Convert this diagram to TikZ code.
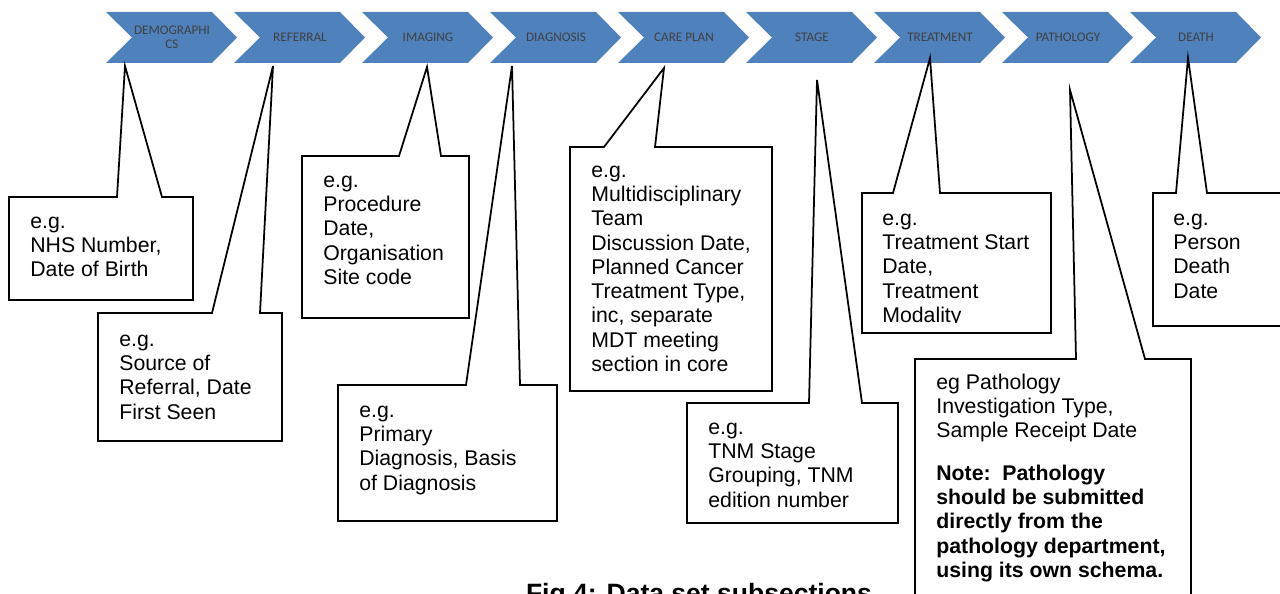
\documentclass[tikz,border=0pt]{standalone}
\usepackage{fontspec}
\setmainfont{Liberation Sans}
\newfontfamily\chevfont{Carlito}
\definecolor{chevblue}{HTML}{4F81BD}
\definecolor{chevtext}{HTML}{404040}
\tikzset{chevron/.style={fill=chevblue, draw=none},
  chevlabel/.style={font=\chevfont\fontsize{7.5}{8.1}\selectfont, text=chevtext, align=center, inner sep=0pt},
  callout/.style={draw=black, line width=1pt, fill=white, line join=miter},
  boxtext/.style={font=\fontsize{12.1}{13.8}\selectfont, align=left, anchor=north west, inner sep=0pt}}

\begin{document}
\begin{tikzpicture}[x=0.02cm, y=-0.02cm]
\useasboundingbox (0,0) rectangle (1280,594);
\clip (0,0) rectangle (1280,594);
% row of chevrons
\foreach \lbl [count=\i] in {{DEMOGRAPHI\\CS},REFERRAL,IMAGING,DIAGNOSIS,{CARE PLAN},STAGE,TREATMENT,PATHOLOGY,DEATH} {
  \pgfmathsetmacro{\L}{106+128*(\i-1)}
  \fill[chevron] (\L,12) -- ++(106,0) -- ++(25,25.5) -- ++(-25,25.5) -- ++(-106,0) -- ++(26,-25.5) -- cycle;
  \node[chevlabel] (c\i) at (\L+66,37.5) {\lbl};
}
% callouts
\draw[callout] (9,197) -- (117,197) -- (125,66) -- (162,197) -- (193,197) -- (193,300) -- (9,300) -- cycle;
\draw[callout] (98,313) -- (212,313) -- (273,66) -- (260,313) -- (282,313) -- (282,441) -- (98,441) -- cycle;
\draw[callout] (302,156) -- (399,156) -- (427,67) -- (441,156) -- (469,156) -- (469,318) -- (302,318) -- cycle;
\draw[callout] (338,385) -- (466,385) -- (512,66) -- (520,385) -- (557,385) -- (557,521) -- (338,521) -- cycle;
\draw[callout] (570,147) -- (604,147) -- (664,68) -- (655,147) -- (772,147) -- (772,391) -- (570,391) -- cycle;
\draw[callout] (687,403) -- (809,403) -- (817,80) -- (862,403) -- (898,403) -- (898,523) -- (687,523) -- cycle;
\draw[callout] (862,193) -- (893,193) -- (930,58) -- (940,193) -- (1051,193) -- (1051,333) -- (862,333) -- cycle;
\draw[callout] (915,359) -- (1076,359) -- (1070,90) -- (1145,359) -- (1191,359) -- (1191,620) -- (915,620) -- cycle;
\draw[callout] (1153,193) -- (1176,193) -- (1188,58) -- (1207,193) -- (1300,193) -- (1300,326) -- (1153,326) -- cycle;
% texts (top of first strut = baseline - 17)
\node[boxtext] (demog) at (30,211) {\strut e.g.\\NHS Number,\\Date of Birth};
\node[boxtext] (referral) at (119,329) {\strut e.g.\\Source of\\Referral, Date\\First Seen};
\node[boxtext] (imaging) at (323,170) {\strut e.g.\\Procedure\\Date,\\Organisation\\Site code};
\node[boxtext] (diagnosis) at (359,400) {\strut e.g.\\Primary\\Diagnosis, Basis\\of Diagnosis};
\node[boxtext] (careplan) at (591,160) {\strut e.g.\\Multidisciplinary\\Team\\Discussion Date,\\Planned Cancer\\Treatment Type,\\inc, separate\\MDT meeting\\section in core};
\node[boxtext] (stage) at (708,417) {\strut e.g.\\TNM Stage\\Grouping, TNM\\edition number};
\begin{scope}
\clip (862,193) rectangle (1051,322);
\node[boxtext] (treatment) at (882,208) {\strut e.g.\\Treatment Start\\Date,\\Treatment\\Modality};
\end{scope}
\node[boxtext] (pathology) at (936,372) {\strut eg Pathology\\Investigation Type,\\Sample Receipt Date};
\node[boxtext, font=\bfseries\fontsize{12.1}{13.8}\selectfont] (pathnote) at (936,463) {\strut Note:\ \ Pathology\\should be submitted\\directly from the\\pathology department,\\using its own schema.};
\node[boxtext] (death) at (1173,208) {\strut e.g.\\Person\\Death\\Date};
\node[font=\bfseries\fontsize{15.1}{18}\selectfont, anchor=base, inner sep=0pt] (caption) at (699,602) {Fig 4: Data set subsections};
\end{tikzpicture}
\end{document}
